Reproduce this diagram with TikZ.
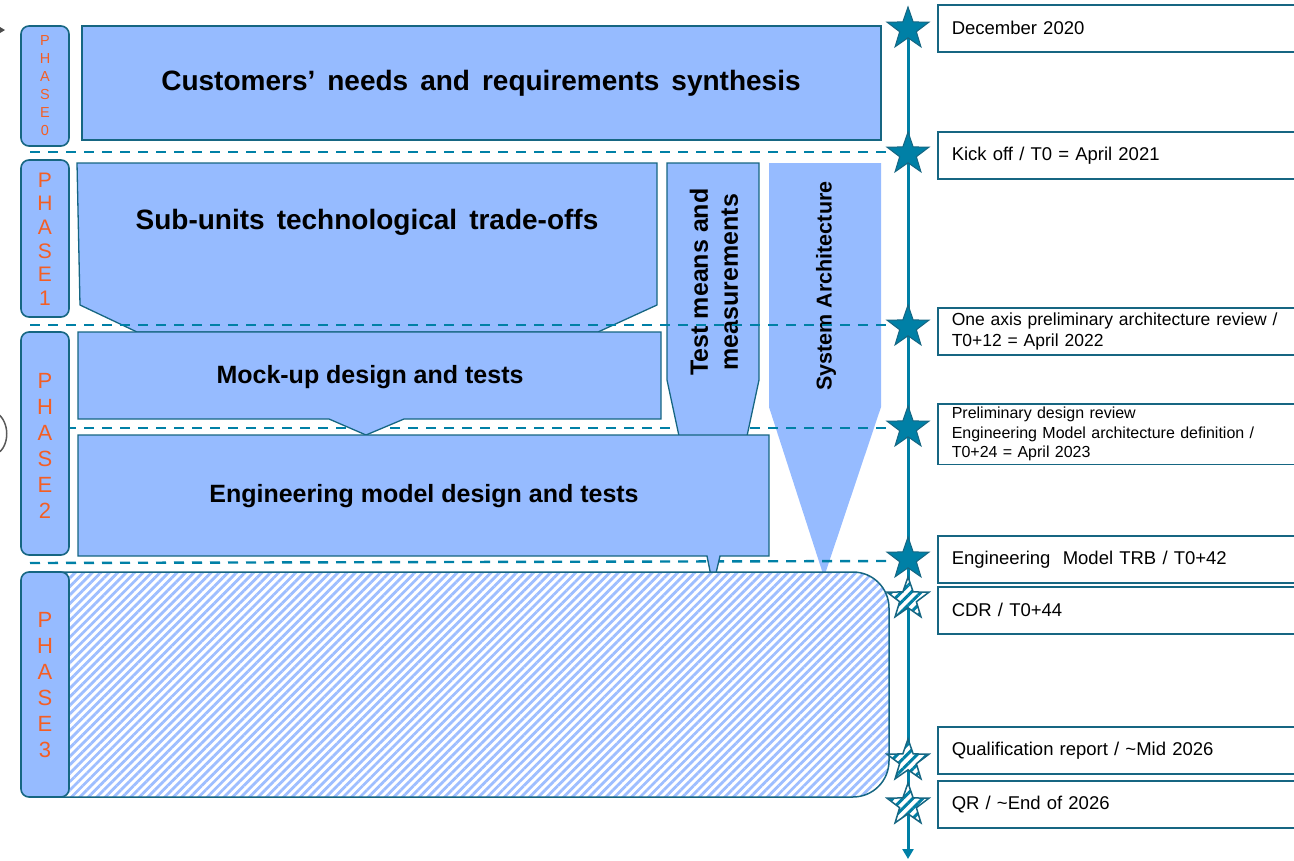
\documentclass[tikz,border=0pt]{standalone}
\usepackage{fontspec}
\setmainfont{Liberation Sans}
\usetikzlibrary{shapes.geometric,patterns.meta,arrows.meta}

\definecolor{paleblue}{RGB}{150,187,255}
\definecolor{hatchblue}{RGB}{158,190,255}
\definecolor{edgeteal}{RGB}{22,102,130}
\definecolor{axisteal}{RGB}{0,128,166}
\definecolor{phaseorange}{RGB}{244,94,36}

\newcommand{\phaseletters}[1]{P\\H\\A\\S\\E\\#1}
\newcommand{\widewords}{\spaceskip=12pt plus 2pt\relax}

\tikzset{
  phasebox/.style={draw=edgeteal,line width=1.6pt,fill=paleblue,rounded corners=8pt},
  phasetext/.style={text=phaseorange,align=center,inner sep=0pt},
  task/.style={draw=edgeteal,line width=1.3pt,fill=paleblue},
  tasktext/.style={inner sep=0pt,align=center},
  bigtask/.style={tasktext,font=\bfseries\fontsize{28}{32}\selectfont\widewords},
  gate/.style={axisteal,line width=2.4pt,dash pattern=on 10pt off 8pt},
  milestone/.style={draw=edgeteal,line width=1.5pt,fill=white,anchor=north west,
    minimum width=380pt,minimum height=47pt,text width=352pt,align=left,
    inner xsep=13pt,font=\fontsize{18.5}{21}\selectfont},
  reached/.style={star,star points=5,star point ratio=2.5,minimum size=44pt,
    inner sep=0pt,draw=edgeteal,line width=1pt,fill=axisteal},
  planned/.style={star,star points=5,star point ratio=2.5,minimum size=44pt,
    inner sep=0pt,draw=edgeteal,line width=1.5pt,preaction={fill=white},
    pattern={Lines[angle=45,distance=7pt,line width=3pt]},pattern color=axisteal},
}

\begin{document}
\begin{tikzpicture}[x=1pt,y=-1pt]
  \path[use as bounding box,clip] (0,0) rectangle (1294,860);

  %% bits cut off at the left edge
  \fill[black!70] (0,27) -- (5,30) -- (0,33) -- cycle;
  \draw[black!65,line width=1.5pt] (-3,413) .. controls (10,422) and (10,446) .. (-3,454);

  %% System architecture wedge, no outline
  \fill[paleblue] (769,163) -- (881,163) -- (881,407) -- (824,577) -- (769,407) -- cycle;
  \node[tasktext,rotate=90,font=\bfseries\fontsize{21.5}{26}\selectfont] (sysarch) at (826,286) {System Architecture};

  %% lower gates
  \draw[gate] (30,428) -- (888,428);
  \draw[gate] (30,563) -- (888,561);

  %% Phase 0
  \draw[task] (82,26) rectangle (881,140);
  \node[bigtask] (needs) at (481,83) {Customers’ needs and requirements synthesis};

  %% Phase 1
  \draw[task] (77,163) -- (657,163) -- (657,305) -- (598,332) -- (137,332) -- (80,305) -- cycle;
  \node[bigtask] (tradeoffs) at (367,222) {Sub-units technological trade-offs};
  \draw[task] (667,163) -- (759,163) -- (759,380) -- (747,436) -- (679,436) -- (667,380) -- cycle;
  \node[tasktext,rotate=90,font=\bfseries\fontsize{25}{30}\selectfont] (testmeans) at (714,282) {Test means and\\measurements};

  %% Phase 2
  \draw[task] (78,332) -- (661,332) -- (661,419) -- (404,419) -- (366,435) -- (329,419) -- (78,419) -- cycle;
  \node[tasktext,font=\bfseries\fontsize{25}{30}\selectfont] (mockup) at (370,377) {Mock-up design and tests};
  \draw[task] (78,435) -- (769,435) -- (769,556) -- (720,556) -- (713,586) -- (707,556) -- (78,556) -- cycle;
  \node[tasktext,font=\bfseries\fontsize{25}{30}\selectfont] (engmodel) at (424,496) {Engineering model design and tests};

  %% Phase 3, not started yet
  \draw[draw=edgeteal,line width=1.5pt,rounded corners=36pt,preaction={fill=white},
    pattern={Lines[angle=45,distance=6pt,line width=2.8pt]},pattern color=hatchblue]
    (25,572) rectangle (889,797);

  %% upper gates
  \draw[gate] (30,152) -- (888,152);
  \draw[gate] (30,325) -- (888,325);

  %% phase tags
  \draw[phasebox] (21,26) rectangle (69,146);
  \node[phasetext,font=\fontsize{14.5}{18}\selectfont] (ph0) at (45,86) {\phaseletters{0}};
  \draw[phasebox] (21,160) rectangle (69,317);
  \node[phasetext,font=\fontsize{21}{23.6}\selectfont] (ph1) at (45,239) {\phaseletters{1}};
  \draw[phasebox] (21,332) rectangle (69,555);
  \node[phasetext,font=\fontsize{22}{26}\selectfont] (ph2) at (45,446) {\phaseletters{2}};
  \draw[phasebox] (21,572) rectangle (69,797);
  \node[phasetext,font=\fontsize{22}{26}\selectfont] (ph3) at (45,685) {\phaseletters{3}};

  %% time axis and milestones
  \coordinate (axtop) at (908,28);
  \coordinate (axend) at (908,859);
  \draw[axisteal,line width=3pt,-{Triangle[length=10pt,width=11pt]}] (axtop) -- (axend);

  \node[reached] (s1) at (908,29) {};
  \node[reached] (s2) at (908,154) {};
  \node[reached] (s3) at (908,327) {};
  \node[reached] (s4) at (908,428) {};
  \node[reached] (s5) at (908,559) {};
  \node[planned] (s6) at (908,599) {};
  \node[planned] (s7) at (908,761) {};
  \node[planned] (s8) at (908,805) {};

  \node[milestone] (m1) at (937,4) {December 2020};
  \node[milestone] (m2) at (937,131) {Kick off / T0 = April 2021};
  \node[milestone,font=\fontsize{17.5}{21}\selectfont] (m3) at (937,307) {One axis preliminary architecture review /\\T0+12 = April 2022};
  \node[milestone,minimum height=56pt,font=\fontsize{16}{19.5}\selectfont] (m4) at (937,403) {Preliminary design review\\Engineering Model architecture definition /\\T0+24 = April 2023};
  \node[milestone] (m5) at (937,535) {Engineering\ \ Model TRB / T0+42};
  \node[milestone] (m6) at (937,586) {CDR / T0+44};
  \node[milestone] (m7) at (937,726) {Qualification report / \textasciitilde Mid 2026};
  \node[milestone] (m8) at (937,780) {QR / \textasciitilde End of 2026};
\end{tikzpicture}
\end{document}
